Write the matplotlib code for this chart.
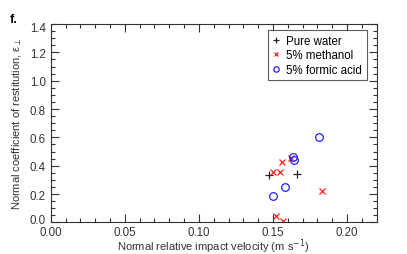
import matplotlib
matplotlib.use("Agg")
import matplotlib.pyplot as plt
import matplotlib.transforms as mtransforms
from matplotlib.ticker import MultipleLocator

# -----------------------------------------------------------
# Dados
# -----------------------------------------------------------
agua_v = [0.147, 0.166]
agua_e = [0.334, 0.339]

metanol_v = [0.150, 0.155, 0.156, 0.162, 0.183, 0.152, 0.157]
metanol_e = [0.352, 0.358, 0.423, 0.452, 0.220, 0.045, 0.012]

formico_v = [0.181, 0.1635, 0.164, 0.158, 0.150]
formico_e = [0.604, 0.461, 0.440, 0.251, 0.183]

plt.rcParams['font.family'] = ['Liberation Sans', 'DejaVu Sans']
plt.rcParams['mathtext.fontset'] = 'dejavusans'

fig = plt.figure(figsize=(4.07, 2.55), dpi=100)
ax = fig.add_axes([0.1246, 0.124, 0.8009, 0.778])

ax.plot(agua_v, agua_e, '+', color='#222222', ms=6, mew=0.9, label='Pure water')
ax.plot(metanol_v, metanol_e, 'x', color='#ff2020', ms=5, mew=0.9, label='5% methanol')
ax.plot(formico_v, formico_e, 'o', mfc='none', mec='#2020ff', ms=5.5, mew=0.9,
        label='5% formic acid')

ax.set_xlim(0, 0.22)
ax.set_ylim(0, 1.4)
ax.xaxis.set_major_locator(MultipleLocator(0.05))
ax.xaxis.set_minor_locator(MultipleLocator(0.01))
ax.yaxis.set_major_locator(MultipleLocator(0.2))
ax.yaxis.set_minor_locator(MultipleLocator(0.05))
ax.xaxis.set_major_formatter(plt.FormatStrFormatter('%.2f'))
ax.yaxis.set_major_formatter(plt.FormatStrFormatter('%.1f'))

ax.tick_params(which='both', direction='in', top=True, right=True,
               labelsize=8.3, colors='#333333', labelcolor='#333333', width=0.8)
ax.tick_params(which='major', length=5.5, pad=3.5)
ax.tick_params(axis='x', which='major', pad=2.5)
ax.tick_params(which='minor', length=3)
for s in ax.spines.values():
    s.set_linewidth(0.8)
    s.set_color('#333333')

# rotulos 0.0 e 1.4 deslocados para dentro, como no original
locs_y = ax.yaxis.get_majorticklocs()
ticks_y = ax.yaxis.get_major_ticks(len(locs_y))
sobe = mtransforms.ScaledTranslation(0, 3 / 72, fig.dpi_scale_trans)
desce = mtransforms.ScaledTranslation(0, -2 / 72, fig.dpi_scale_trans)
for loc, t in zip(locs_y, ticks_y):
    if abs(loc) < 1e-9:
        t.label1.set_transform(t.label1.get_transform() + sobe)
    elif abs(loc - 1.4) < 1e-9:
        t.label1.set_transform(t.label1.get_transform() + desce)

ax.set_xlabel('Normal relative impact velocity (m s$^{-1}$)', fontsize=8,
              color='#333333', labelpad=-0.8)
ax.set_ylabel('Normal coefficient of restitution, ε$_{\\perp}$', fontsize=8,
              color='#333333', labelpad=4)

leg = ax.legend(loc='upper right', bbox_to_anchor=(0.969, 0.968), borderaxespad=0,
                fontsize=8.3, frameon=True, fancybox=False,
                handlelength=0.6, handletextpad=0.6, borderpad=0.4,
                labelspacing=0.2, markerscale=0.7)
leg.get_frame().set_edgecolor('#333333')
leg.get_frame().set_linewidth(0.8)

fig.text(0.025, 0.91, 'f.', fontsize=9, fontweight='bold')

fig.savefig('out.png', dpi=100)
